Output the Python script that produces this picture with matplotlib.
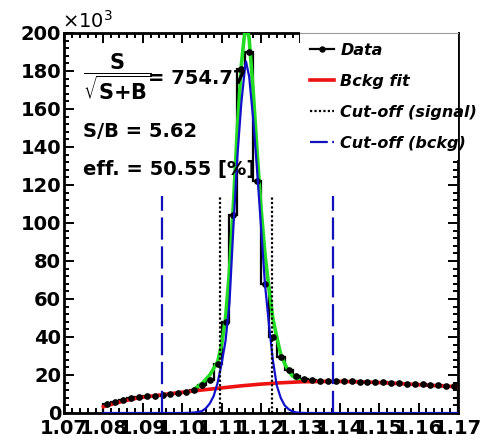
import matplotlib
matplotlib.use("Agg")
import matplotlib.pyplot as plt
from matplotlib.lines import Line2D
from matplotlib.patches import Rectangle

# data histogram (counts in 10^3), 0.002 wide bins from 1.08 to 1.17
bin_edges = [round(1.080 + 0.002 * i, 3) for i in range(46)]
counts = [4.5, 6.0, 7.0, 7.8, 8.3, 8.8, 9.2, 9.6, 10.0, 10.5,
          11.3, 12.2, 14.5, 17.5, 26.0, 48.0, 104.0, 181.0, 190.0, 122.0,
          68.0, 40.0, 29.5, 22.5, 19.5, 18.0, 17.3, 17.0, 16.8, 16.7,
          16.6, 16.6, 16.5, 16.4, 16.3, 16.1, 15.9, 15.7, 15.5, 15.1,
          15.2, 14.9, 14.5, 14.4, 14.2]

# background fit (red)
bkg_x = [1.080, 1.0825, 1.085, 1.0875, 1.090, 1.095, 1.100, 1.105, 1.110, 1.115,
         1.120, 1.125, 1.130, 1.135, 1.140, 1.145, 1.150, 1.155, 1.160, 1.165, 1.170]
bkg_y = [3.3, 4.8, 6.2, 7.4, 8.3, 9.6, 10.9, 12.1, 13.2, 14.3,
         15.2, 15.9, 16.4, 16.6, 16.6, 16.4, 16.0, 15.5, 14.9, 14.3, 13.8]

# signal component (blue)
sig_x = [1.080, 1.100, 1.102, 1.104, 1.105, 1.106, 1.107, 1.108, 1.109, 1.110,
         1.111, 1.112, 1.113, 1.114, 1.115, 1.116, 1.1162, 1.117, 1.118, 1.119,
         1.120, 1.121, 1.122, 1.123, 1.124, 1.125, 1.126, 1.127, 1.128, 1.129,
         1.130, 1.132, 1.170]
sig_y = [0.0, 0.0, 0.1, 0.5, 1.0, 2.5, 5.0, 9.0, 16.0, 26.0,
         38.0, 58.0, 98.0, 135.0, 163.0, 183.0, 185.0, 177.0, 155.0, 128.0,
         98.0, 68.0, 47.0, 28.0, 14.5, 8.0, 4.0, 2.0, 0.8, 0.3,
         0.1, 0.0, 0.0]

# total fit (green)
tot_x = [1.103, 1.105, 1.107, 1.109, 1.110, 1.111, 1.112, 1.113, 1.114, 1.115,
         1.116, 1.1163, 1.117, 1.118, 1.119, 1.120, 1.121, 1.122, 1.123, 1.124,
         1.125, 1.126, 1.127, 1.128, 1.129, 1.130]
tot_y = [12.5, 15.5, 20.0, 27.0, 36.0, 50.0, 75.0, 110.0, 150.0, 183.0,
         203.0, 205.0, 197.0, 170.0, 138.0, 108.0, 84.0, 66.0, 50.0, 40.0,
         31.0, 26.0, 22.0, 19.5, 18.0, 17.0]

sig_cuts = [1.1095, 1.1229]
bkg_cuts = [1.0949, 1.1382]
cut_top = 114.0

labels = ["Data", "Bckg fit", "Cut-off (signal)", "Cut-off (bckg)"]

W, H = 493, 442
fig = plt.figure(figsize=(W / 100, H / 100), dpi=100)
ax = fig.add_axes([64 / W, 1 - 413 / H, (458 - 64) / W, (413 - 33) / H])

centers = [(a + b) / 2 for a, b in zip(bin_edges[:-1], bin_edges[1:])]
ax.stairs(counts, bin_edges, color="black", lw=1.6, zorder=2)

ax.plot(tot_x, tot_y, color="#22dd22", lw=2.6, zorder=3)
ax.plot(bkg_x, bkg_y, color="#ee1111", lw=2.6, zorder=3)
ax.plot(centers, counts, "o", color="black", ms=3.8, zorder=4)
ax.plot(sig_x, sig_y, color="#1111cc", lw=1.6, zorder=5)

for x in sig_cuts:
    ax.plot([x, x], [0, cut_top], color="black", lw=1.6, ls=(0, (1, 1)), zorder=6)
for x in bkg_cuts:
    ax.plot([x, x], [0, cut_top], color="#1111bb", lw=1.6, dashes=(10, 3), zorder=6)

ax.set_xlim(1.07, 1.17)
ax.set_ylim(0, 200)
ax.set_xticks([round(1.07 + 0.01 * i, 2) for i in range(11)])
ax.set_xticklabels(["%.2f" % (1.07 + 0.01 * i) for i in range(11)])
ax.set_yticks(range(0, 201, 20))
ax.xaxis.set_minor_locator(matplotlib.ticker.MultipleLocator(0.002))
ax.yaxis.set_minor_locator(matplotlib.ticker.MultipleLocator(4))
ax.tick_params(which="both", direction="in", top=True, right=True, width=1.4)
ax.tick_params(which="major", length=7)
ax.tick_params(which="minor", length=3.5)
ax.tick_params(axis="both", labelsize=14)
ax.tick_params(axis="x", pad=4)
ax.tick_params(axis="y", pad=2)
for lab in ax.get_xticklabels() + ax.get_yticklabels():
    lab.set_fontweight("bold")
for s in ax.spines.values():
    s.set_linewidth(2)

# white legend box hiding part of the top frame
fig.patches.append(Rectangle((300 / W, 1 - 160 / H), 158 / W, 130 / H,
                             transform=fig.transFigure, facecolor="white",
                             edgecolor="none", zorder=10))
fig.lines.append(Line2D([300 / W, 458 / W], [1 - 32.5 / H, 1 - 32.5 / H],
                        transform=fig.transFigure, color="#999999", lw=0.8, zorder=11))

handles = [
    Line2D([], [], color="black", lw=1.6, marker="o", ms=3.6),
    Line2D([], [], color="#ee1111", lw=2.6),
    Line2D([], [], color="black", lw=1.6, ls=(0, (1, 1))),
    Line2D([], [], color="#1111bb", lw=1.6, dashes=(8, 2, 1.5, 2)),
]
leg = fig.legend(handles, labels, loc="upper left", bbox_to_anchor=(302 / W, 1 - 35 / H),
                 frameon=False, borderpad=0, handlelength=1.5, handletextpad=0.4,
                 labelspacing=1.0, prop={"size": 11.5, "weight": "bold", "style": "italic"})
leg.set_zorder(12)

fig.text(83 / W, 1 - 77 / H, r"$\dfrac{\mathbf{S}}{\sqrt{\mathbf{S{+}B}}}$",
         fontsize=15, va="center", ha="left")
fig.text(148 / W, 1 - 84 / H, "= 754.77", fontsize=14, fontweight="bold", va="baseline")
fig.text(83 / W, 1 - 137 / H, "S/B = 5.62", fontsize=14, fontweight="bold", va="baseline")
fig.text(83 / W, 1 - 175 / H, "eff. = 50.55 [%]", fontsize=14, fontweight="bold", va="baseline")
fig.text(62 / W, 1 - 28 / H, r"$\times$10$^{3}$", fontsize=14, va="baseline")

fig.savefig("out.png", dpi=100)
